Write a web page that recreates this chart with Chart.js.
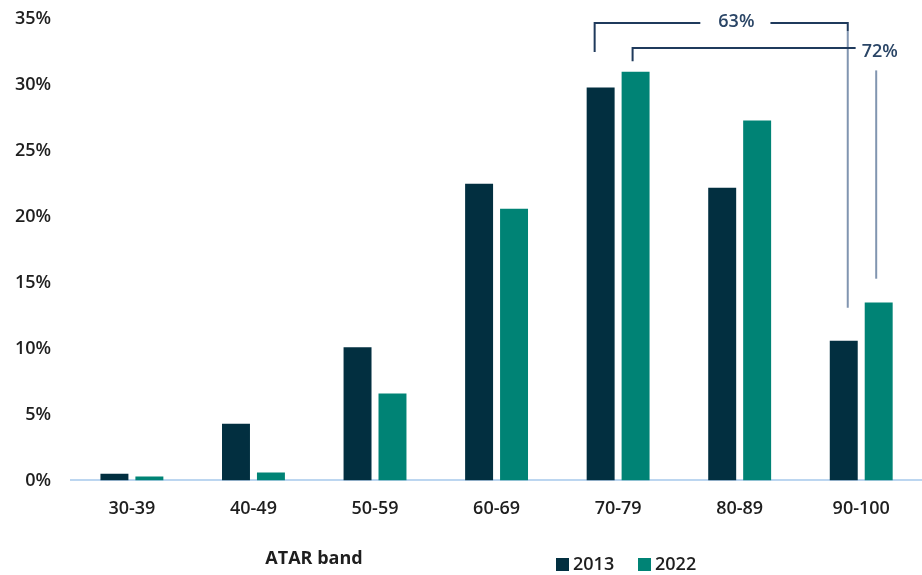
<!DOCTYPE html>
<html>
<head>
<meta charset="utf-8">
<script src="https://cdn.jsdelivr.net/npm/chart.js@4/dist/chart.umd.min.js"></script>
<style>
  html, body { margin: 0; padding: 0; background: #ffffff; }
  #wrap { width: 922px; height: 575px; position: relative; }
</style>
</head>
<body>
<div id="wrap"><canvas id="c" width="922" height="575"></canvas></div>
<script>
const categories = ["30-39", "40-49", "50-59", "60-69", "70-79", "80-89", "90-100"];
const series2013 = [0.5, 4.3, 10.1, 22.5, 29.8, 22.2, 10.6];
const series2022 = [0.3, 0.6, 6.6, 20.6, 31.0, 27.3, 13.5];
const seriesNames = ["2013", "2022"];
const yTicks = [0, 5, 10, 15, 20, 25, 30, 35];
const bracketLabels = ["63%", "72%"];
const xAxisTitle = "ATAR band";

const COL_2013 = "#022f40";
const COL_2022 = "#008375";
const TEXT = "#1e1e1e";
const FONT = "'Open Sans', 'Liberation Sans', sans-serif";

const annotations = {
  id: "annotations",
  afterDatasetsDraw(chart) {
    const ctx = chart.ctx;
    const y = chart.scales.y;
    const m0 = chart.getDatasetMeta(0).data;
    const m1 = chart.getDatasetMeta(1).data;
    const dark = "#1f3a5c";
    const grey = "#8195b0";
    ctx.save();
    ctx.lineCap = "butt";
    ctx.font = "600 18px " + FONT;
    ctx.textBaseline = "middle";
    ctx.textAlign = "center";

    // Bracket 1 (2013: 70-79 -> 90-100)
    const a1 = m0[4].x - 6, a2 = m0[6].x + 4;
    const aTop = y.getPixelForValue(34.7);
    const aLow = y.getPixelForValue(32.5);
    const aEnd = y.getPixelForValue(13.1);
    const t1x = a1 + (a2 - a1) * 0.56;
    const t1w = ctx.measureText(bracketLabels[0]).width;
    ctx.strokeStyle = dark; ctx.lineWidth = 2;
    ctx.beginPath();
    ctx.moveTo(a1, aLow); ctx.lineTo(a1, aTop); ctx.lineTo(t1x - t1w / 2 - 18, aTop);
    ctx.moveTo(t1x + t1w / 2 + 16, aTop); ctx.lineTo(a2, aTop); ctx.lineTo(a2, aTop + 8);
    ctx.stroke();
    ctx.strokeStyle = grey; ctx.lineWidth = 2;
    ctx.beginPath();
    ctx.moveTo(a2, aTop + 8); ctx.lineTo(a2, aEnd);
    ctx.stroke();
    ctx.fillStyle = "#2a4566";
    ctx.fillText(bracketLabels[0], t1x, aTop - 1);

    // Bracket 2 (2022: 70-79 -> 90-100)
    const b1 = m1[4].x - 3;
    const bTop = y.getPixelForValue(32.8);
    const bLow = y.getPixelForValue(31.8);
    const t2x = m1[6].x + 1;
    const t2w = ctx.measureText(bracketLabels[1]).width;
    ctx.strokeStyle = dark; ctx.lineWidth = 2;
    ctx.beginPath();
    ctx.moveTo(b1, bLow); ctx.lineTo(b1, bTop); ctx.lineTo(t2x - t2w / 2 - 6, bTop);
    ctx.stroke();
    ctx.fillText(bracketLabels[1], t2x, y.getPixelForValue(32.5));
    const bx2 = m1[6].x - 2.5;
    ctx.strokeStyle = grey; ctx.lineWidth = 2;
    ctx.beginPath();
    ctx.moveTo(bx2, y.getPixelForValue(31.1)); ctx.lineTo(bx2, y.getPixelForValue(15.3));
    ctx.stroke();
    ctx.restore();
  },
  afterDraw(chart) {
    const ctx = chart.ctx;
    ctx.save();
    // axis title
    ctx.font = "bold 18px " + FONT;
    ctx.fillStyle = TEXT;
    ctx.textAlign = "center";
    ctx.textBaseline = "middle";
    ctx.fillText(xAxisTitle, 314, 559);
    // legend
    ctx.font = "600 18px " + FONT;
    ctx.textAlign = "left";
    let x = 556;
    chart.data.datasets.forEach((ds) => {
      ctx.fillStyle = ds.backgroundColor;
      ctx.fillRect(x, 558, 13, 13);
      ctx.fillStyle = TEXT;
      ctx.fillText(ds.label, x + 17, 565);
      x += 82;
    });
    ctx.restore();
  }
};

new Chart(document.getElementById("c"), {
  type: "bar",
  data: {
    labels: categories,
    datasets: [
      { label: seriesNames[0], data: series2013, backgroundColor: COL_2013, borderWidth: 0 },
      { label: seriesNames[1], data: series2022, backgroundColor: COL_2022, borderWidth: 0 }
    ]
  },
  options: {
    responsive: false,
    animation: false,
    devicePixelRatio: 1,
    categoryPercentage: 0.575,
    barPercentage: 0.8,
    layout: { padding: { top: 0, left: 15, right: 0, bottom: 37 } },
    plugins: { legend: { display: false }, tooltip: { enabled: false }, title: { display: false } },
    scales: {
      x: {
        grid: { display: false, drawTicks: false },
        border: { display: true, color: "#bcd6f0", width: 2 },
        ticks: { color: TEXT, font: { family: FONT, size: 18, weight: "600" }, padding: 18 }
      },
      y: {
        min: yTicks[0],
        max: yTicks[yTicks.length - 1],
        afterBuildTicks(scale) { scale.ticks = yTicks.map(v => ({ value: v })); },
        afterFit(scale) { scale.width -= 20; scale.paddingTop = 19; },
        grid: { display: false, drawTicks: false },
        border: { display: false },
        ticks: { color: TEXT, font: { family: FONT, size: 18, weight: "600" }, padding: 20,
                 callback: (v) => v + "%" }
      }
    }
  },
  plugins: [annotations]
});
</script>
</body>
</html>
